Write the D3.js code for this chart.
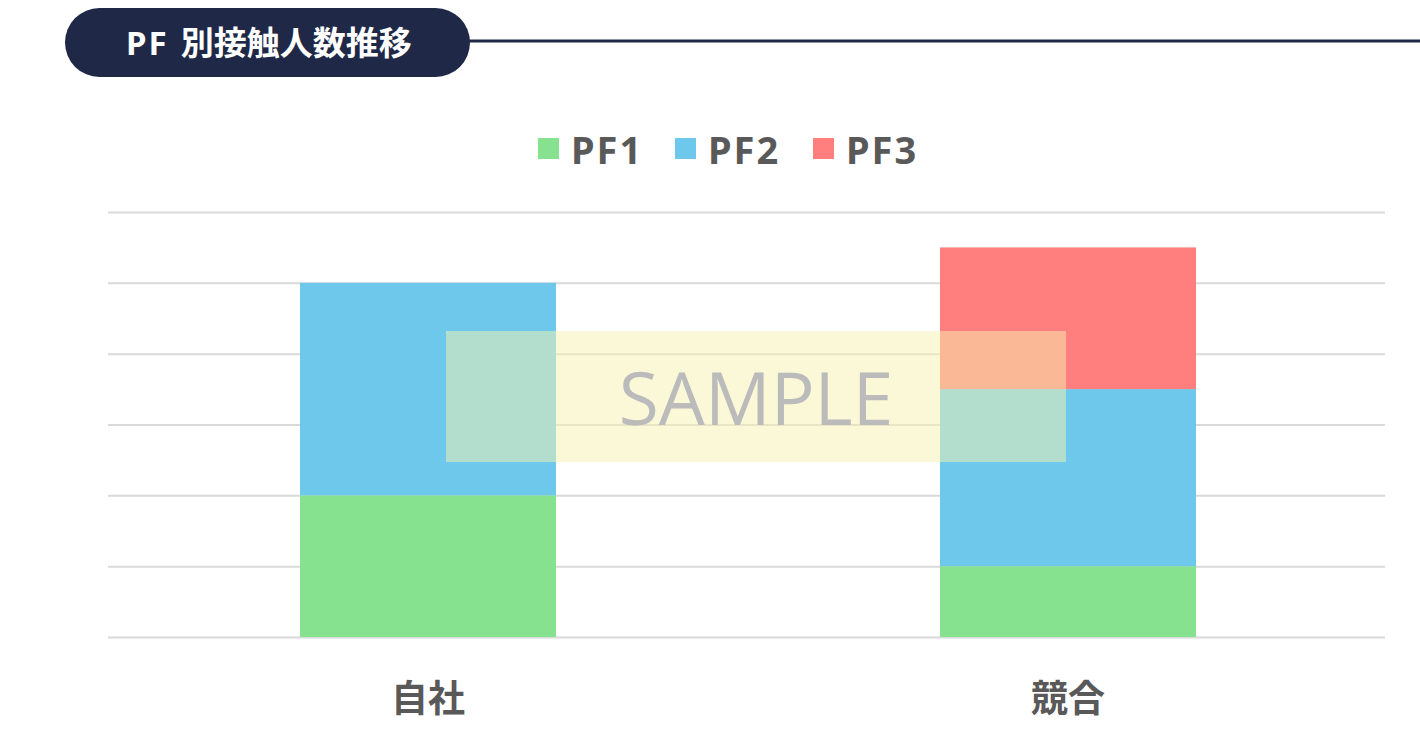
<!DOCTYPE html>
<html>
<head>
<meta charset="utf-8">
<script src="https://cdn.jsdelivr.net/npm/d3@7"></script>
<style>
  body { margin: 0; background: #fff; }
  svg { display: block; font-family: "Noto Sans", "Noto Sans CJK JP", sans-serif; }
</style>
</head>
<body>
<div id="chart"></div>
<script>
// data
const categories = ["自社", "競合"];
const seriesNames = ["PF1", "PF2", "PF3"];
const pf1 = [2, 1];
const pf2 = [3, 2.5];
const pf3 = [0, 2];
const yTicks = [0, 1, 2, 3, 4, 5, 6];

const colors = {
  "PF1": "#86e28e",
  "PF2": "#6ec8eb",
  "PF3": "#ff7f7f"
};

const width = 1420, height = 732;
const plot = { left: 108, right: 1385, top: 212, bottom: 637 };

const svg = d3.select("#chart").append("svg")
  .attr("width", width)
  .attr("height", height);

// title pill and line
svg.append("line")
  .attr("x1", 460).attr("x2", width)
  .attr("y1", 41).attr("y2", 41)
  .attr("stroke", "#1f2947")
  .attr("stroke-width", 3);

svg.append("rect")
  .attr("x", 65).attr("y", 8)
  .attr("width", 405).attr("height", 69)
  .attr("rx", 34.5)
  .attr("fill", "#1f2947");

let title = svg.append("text")
  .attr("x", 126).attr("y", 55)
  .attr("fill", "#fff")
  .attr("font-size", 33)
  .attr("font-weight", "bold");
title.append("tspan").attr("letter-spacing", 2).text("PF");
title.append("tspan").attr("dx", 12).text("別接触人数推移");

// scales
const xScale = d3.scaleBand()
  .domain(categories)
  .range([plot.left, plot.right + 3])
  .paddingInner(0.6)
  .paddingOuter(0.3);

const yScale = d3.scaleLinear()
  .domain([0, 6])
  .range([plot.bottom, plot.top]);

// grid lines
svg.append("g")
  .attr("class", "grid")
  .attr("transform", "translate(" + plot.left + ",0)")
  .call(d3.axisLeft(yScale).tickValues(yTicks).tickFormat("").tickSize(-(plot.right - plot.left)))
  .call(g => g.select(".domain").remove())
  .selectAll("line")
    .attr("stroke", "#d9d9d9")
    .attr("stroke-width", 2);

// stacked bars
const rows = categories.map((c, i) => ({ cat: c, PF1: pf1[i], PF2: pf2[i], PF3: pf3[i] }));
const stacked = d3.stack().keys(seriesNames)(rows);

svg.append("g").selectAll("g")
  .data(stacked)
  .enter()
  .append("g")
    .attr("fill", d => colors[d.key])
  .selectAll("rect")
  .data(d => d.filter(p => p[1] - p[0] > 0))
  .enter()
  .append("rect")
    .attr("x", d => xScale(d.data.cat))
    .attr("y", d => yScale(d[1]))
    .attr("width", xScale.bandwidth())
    .attr("height", d => yScale(d[0]) - yScale(d[1]));

// x axis labels
const xAxis = svg.append("g")
  .attr("transform", "translate(0," + plot.bottom + ")")
  .call(d3.axisBottom(xScale).tickSize(0).tickPadding(49));
xAxis.select(".domain").remove();
xAxis.selectAll("text")
  .attr("font-family", "\"Noto Sans CJK JP\", sans-serif")
  .attr("font-size", 37)
  .attr("font-weight", "bold")
  .attr("fill", "#595959");

// legend
const legendX = [538, 675, 813];
const legend = svg.append("g");
seriesNames.forEach((name, i) => {
  legend.append("rect")
    .attr("x", legendX[i]).attr("y", 138)
    .attr("width", 21).attr("height", 21)
    .attr("fill", colors[name]);
  legend.append("text")
    .attr("x", legendX[i] + 33).attr("y", 164)
    .attr("font-size", 38)
    .attr("font-weight", "bold")
    .attr("letter-spacing", 2)
    .attr("fill", "#595959")
    .text(name);
});

// watermark
svg.append("rect")
  .attr("x", 446).attr("y", 331)
  .attr("width", 620).attr("height", 131)
  .attr("fill", "#f8f2b0")
  .attr("opacity", 0.5);

svg.append("text")
  .attr("x", 756).attr("y", 425)
  .attr("text-anchor", "middle")
  .attr("font-family", "\"Open Sans\", sans-serif")
  .attr("font-size", 73)
  .attr("fill", "#bbbbbb")
  .text("SAMPLE");
</script>
</body>
</html>
